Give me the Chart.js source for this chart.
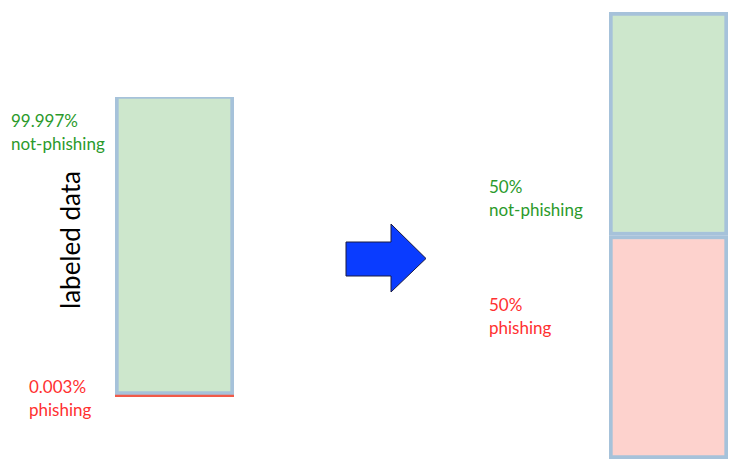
<!DOCTYPE html>
<html>
<head>
<meta charset="utf-8">
<script src="https://cdn.jsdelivr.net/npm/chart.js@4.4.0/dist/chart.umd.min.js"></script>
<style>
  html, body { margin: 0; padding: 0; background: #fff; }
  #stage { position: relative; width: 745px; height: 473px; overflow: hidden; font-family: Lato, "Open Sans", sans-serif; }
  .box { position: absolute; }
  .lbl { position: absolute; font-size: 17px; line-height: 23px; white-space: nowrap; }
  .green { color: #2b9a2b; }
  .red { color: #ff3030; }
  #axisTitle { position: absolute; left: 70px; top: 240px; transform: translate(-50%, -50%) rotate(-90deg); font-size: 26px; color: #000; white-space: nowrap; }
</style>
</head>
<body>
<div id="stage">
  <div class="box" style="left:115px; top:97px; width:119px; height:300px;"><canvas id="beforeChart"></canvas></div>
  <div class="box" style="left:609px; top:12px; width:119px; height:447px;"><canvas id="afterChart"></canvas></div>

  <div id="axisTitle">labeled data</div>

  <div class="lbl green" style="left:11px; top:109px;">99.997%<br>not-phishing</div>
  <div class="lbl red" style="left:29px; top:375px;">0.003%<br>phishing</div>
  <div class="lbl green" style="left:489px; top:175px;">50%<br>not-phishing</div>
  <div class="lbl red" style="left:489px; top:293px;">50%<br>phishing</div>

  <svg style="position:absolute; left:0; top:0;" width="745" height="473">
    <polygon points="346,242 391,242 391,224 426,258.5 391,292 391,276 346,276"
             fill="#0a3cff" stroke="#1a1a40" stroke-width="1"/>
  </svg>
</div>

<script>
// data
const beforeLabels = ["labeled data"];
const beforePhishing = [0.003];
const beforeNotPhishing = [99.997];

const afterLabels = ["resampled"];
const afterPhishing = [50];
const afterNotPhishing = [50];

const GREEN_FILL = "#cde7cc";
const PINK_FILL = "#fdd2cd";
const EDGE = "#a6c2da";
const RED_LINE = "#f25a48";

const baseOptions = {
    responsive: true,
    maintainAspectRatio: false,
    animation: false,
    layout: { padding: 0 },
    plugins: {
        legend: { display: false },
        tooltip: { enabled: false }
    },
    scales: {
        x: { display: false, stacked: true },
        y: { display: false, stacked: true, min: 0, max: 100 }
    }
};

// ===== before resampling ===== //
new Chart(document.getElementById("beforeChart"), {
    type: "bar",
    data: {
        labels: beforeLabels,
        datasets: [
            {
                label: "phishing",
                data: beforePhishing,
                backgroundColor: RED_LINE,
                borderWidth: 0,
                minBarLength: 2,
                barPercentage: 1,
                categoryPercentage: 1
            },
            {
                label: "not-phishing",
                data: beforeNotPhishing,
                backgroundColor: GREEN_FILL,
                borderColor: EDGE,
                borderWidth: 4,
                borderSkipped: false,
                barPercentage: 1,
                categoryPercentage: 1
            }
        ]
    },
    options: baseOptions
});

// ===== after resampling ===== //
new Chart(document.getElementById("afterChart"), {
    type: "bar",
    data: {
        labels: afterLabels,
        datasets: [
            {
                label: "phishing",
                data: afterPhishing,
                backgroundColor: PINK_FILL,
                borderColor: EDGE,
                borderWidth: 4,
                borderSkipped: false,
                barPercentage: 1,
                categoryPercentage: 1
            },
            {
                label: "not-phishing",
                data: afterNotPhishing,
                backgroundColor: GREEN_FILL,
                borderColor: EDGE,
                borderWidth: 4,
                borderSkipped: false,
                barPercentage: 1,
                categoryPercentage: 1
            }
        ]
    },
    options: baseOptions
});
</script>
</body>
</html>
